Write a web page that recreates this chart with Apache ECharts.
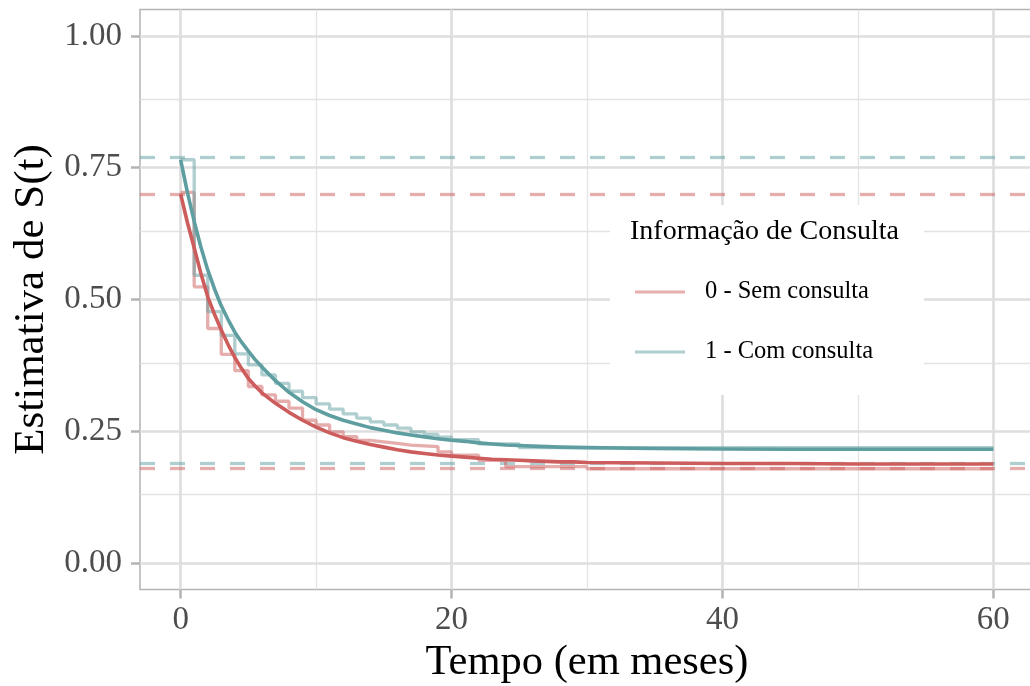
<!DOCTYPE html>
<html><head><meta charset="utf-8">
<script src="https://cdn.jsdelivr.net/npm/echarts@6/dist/echarts.min.js"></script>
<style>html,body{margin:0;padding:0;background:#fff}#c{width:1030px;height:686px}</style>
</head><body><div id="c"></div>
<script>
// ---- data ----
const groupNames = ['0 - Sem consulta', '1 - Com consulta'];
const xTicks = [0, 20, 40, 60];
const xMinor = [10, 30, 50];
const yTicks = [0, 0.25, 0.5, 0.75, 1];
const yMinor = [0.125, 0.375, 0.625, 0.875];

// Kaplan-Meier steps (change points)
const redStepT = [0,1,2,3,4,5,6,7,8,9,10,11,12,13,14,15,16,17,19,20,22,24,30,60];
const redStepS = [0.703,0.524,0.445,0.396,0.365,0.335,0.319,0.307,0.294,0.271,0.262,0.249,0.240,0.233,0.230,0.227,0.224,0.221,0.211,0.205,0.195,0.183,0.179,0.179];
const tealStepT = [0,1,2,3,4,5,6,7,8,9,10,11,12,13,14,15,16,17,18,19,20,22,25,60];
const tealStepS = [0.765,0.546,0.477,0.432,0.397,0.376,0.357,0.341,0.326,0.314,0.302,0.292,0.283,0.275,0.268,0.262,0.256,0.249,0.244,0.239,0.234,0.226,0.219,0.219];

// fitted (smooth) curves
const smoothT = [0,0.5,1,1.5,2,2.5,3,3.5,4,4.5,5,5.5,6,7,8,9,10,11,12,13,14,15,16,17,18,19,20,21,22,23,24,25,26,27,28,29,30,35,40,45,50,55,60];
const redSmooth = [0.700,0.646,0.598,0.549,0.505,0.472,0.442,0.4145,0.390,0.369,0.350,0.336,0.323,0.303,0.286,0.271,0.258,0.247,0.238,0.231,0.225,0.220,0.215,0.211,0.208,0.205,0.203,0.201,0.199,0.197,0.196,0.195,0.194,0.193,0.192,0.192,0.191,0.190,0.189,0.189,0.188,0.188,0.188];
const tealSmooth = [0.765,0.703,0.648,0.599,0.556,0.520,0.488,0.462,0.438,0.419,0.402,0.386,0.372,0.346,0.324,0.306,0.291,0.280,0.271,0.264,0.257,0.252,0.247,0.243,0.2395,0.236,0.233,0.231,0.228,0.226,0.224,0.223,0.222,0.221,0.220,0.2195,0.219,0.2175,0.2165,0.216,0.216,0.216,0.216];

// reference horizontal lines
const redHlines = [0.703, 0.179];
const tealHlines = [0.765, 0.192];

// ---- styles ----
const RED = '#CD5C5C', TEAL = '#5F9EA0';
const RED_A = 'rgba(205,92,92,0.5)', TEAL_A = 'rgba(95,158,160,0.5)';
const FONT = 'Liberation Serif';
const zip = (a, b) => a.map((v, i) => [v, b[i]]);

const gridLines = []
  .concat(xMinor.map(v => ({xAxis: v, lineStyle: {color: '#E3E3E3', width: 1.3, type: 'solid'}})))
  .concat(yMinor.map(v => ({yAxis: v, lineStyle: {color: '#E3E3E3', width: 1.3, type: 'solid'}})))
  .concat(xTicks.map(v => ({xAxis: v, lineStyle: {color: '#DEDEDE', width: 2.7, type: 'solid'}})))
  .concat(yTicks.map(v => ({yAxis: v, lineStyle: {color: '#DEDEDE', width: 2.7, type: 'solid'}})));

const hl = (vals, color) => ({
  silent: true, z: 2, symbol: ['none', 'none'], animation: false, label: {show: false},
  lineStyle: {color: color, width: 3.3, type: [15, 15]},
  data: vals.map(v => ({yAxis: v}))
});

const chart = echarts.init(document.getElementById('c'), null, {renderer: 'canvas'});
chart.setOption({
  animation: false,
  backgroundColor: '#fff',
  textStyle: {fontFamily: FONT},
  grid: {left: 140, top: 9.5, width: 894, bottom: 96.5, show: true, borderColor: '#B3B3B3', borderWidth: 1.5,
         backgroundColor: 'transparent', containLabel: false, outerBoundsMode: 'none'},
  xAxis: {
    type: 'value', min: -3, max: 63,
    name: 'Tempo (em meses)', nameLocation: 'middle', nameGap: 52,
    nameTextStyle: {fontFamily: FONT, fontSize: 42.5, color: '#000'},
    axisLine: {show: false, onZero: false},
    axisTick: {show: true, customValues: xTicks, length: 9, lineStyle: {color: '#B3B3B3', width: 2.5}},
    axisLabel: {customValues: xTicks, margin: 14, fontFamily: FONT, fontSize: 33, color: '#4D4D4D'},
    splitLine: {show: false}
  },
  yAxis: {
    type: 'value', min: -0.05, max: 1.05,
    name: 'Estimativa de S(t)', nameLocation: 'middle', nameGap: 85,
    nameTextStyle: {fontFamily: FONT, fontSize: 43, color: '#000'},
    axisLine: {show: false, onZero: false},
    axisTick: {show: true, customValues: yTicks, length: 9, lineStyle: {color: '#B3B3B3', width: 2.5}},
    axisLabel: {customValues: yTicks, margin: 18, fontFamily: FONT, fontSize: 33, color: '#4D4D4D',
                formatter: v => v.toFixed(2)},
    splitLine: {show: false}
  },
  legend: {
    orient: 'vertical', left: 635, top: 277, padding: 0, itemGap: 30, z: 6,
    itemWidth: 50, itemHeight: 3, icon: 'rect',
    textStyle: {fontFamily: FONT, fontSize: 24.5, color: '#000', lineHeight: 30, padding: [0, 0, 0, 15]},
    selectedMode: false,
    data: [
      {name: groupNames[0], itemStyle: {color: RED_A}},
      {name: groupNames[1], itemStyle: {color: TEAL_A}}
    ]
  },
  graphic: [
    {type: 'rect', z: 4, shape: {x: 610, y: 205, width: 314, height: 190}, style: {fill: '#fff'}},
    {type: 'text', z: 6, x: 630, y: 232, style: {text: 'Informação de Consulta', fontFamily: FONT, fontSize: 28,
      fill: '#000', verticalAlign: 'middle', align: 'left'}}
  ],
  series: [
    {type: 'line', name: 'grid', data: [], z: 1, silent: true, markLine: {silent: true, z: 1, symbol: ['none', 'none'],
      animation: false, label: {show: false}, data: gridLines}},
    {type: 'line', name: groupNames[0], data: zip(redStepT, redStepS), step: 'end', showSymbol: false, z: 2,
      lineStyle: {color: RED_A, width: 3.3}, itemStyle: {color: RED_A}, markLine: hl(redHlines, RED_A)},
    {type: 'line', name: groupNames[1], data: zip(tealStepT, tealStepS), step: 'end', showSymbol: false, z: 2,
      lineStyle: {color: TEAL_A, width: 3.3}, itemStyle: {color: TEAL_A}, markLine: hl(tealHlines, TEAL_A)},
    {type: 'line', name: 'ajuste0', data: zip(smoothT, redSmooth), smooth: false, showSymbol: false, z: 3,
      lineStyle: {color: RED, width: 3.6, join: 'round'}, itemStyle: {color: RED}},
    {type: 'line', name: 'ajuste1', data: zip(smoothT, tealSmooth), smooth: false, showSymbol: false, z: 3,
      lineStyle: {color: TEAL, width: 3.6, join: 'round'}, itemStyle: {color: TEAL}}
  ]
});
</script></body></html>
